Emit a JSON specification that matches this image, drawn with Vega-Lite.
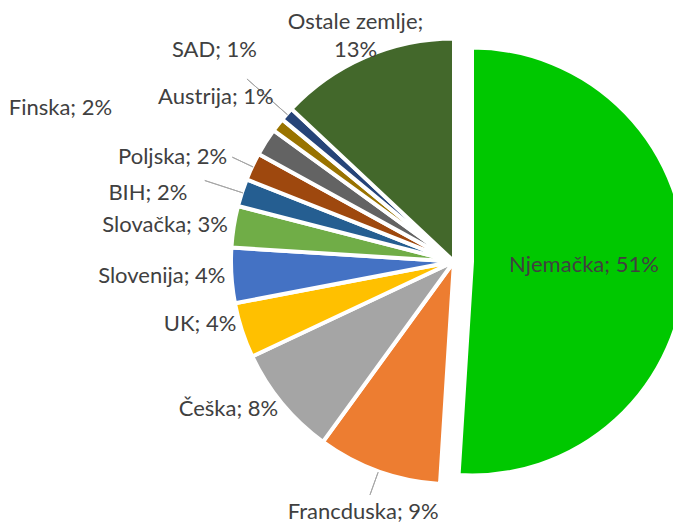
{
  "$schema": "https://vega.github.io/schema/vega-lite/v6.json",
  "width": 438,
  "height": 523,
  "autosize": {"type": "none"},
  "padding": {"left": 235, "top": 0, "right": 0, "bottom": 0},
  "background": "white",
  "config": {"view": {"stroke": null}, "text": {"font": "Lato", "fontSize": 22, "fill": "#404040"}},
  "data": {
    "values": [
      {"rank": 1, "country": "Njemačka", "share": 51, "label": "Njemačka; 51%"},
      {"rank": 2, "country": "Francuska", "share": 9, "label": "Francduska; 9%"},
      {"rank": 3, "country": "Češka", "share": 8, "label": "Češka; 8%"},
      {"rank": 4, "country": "UK", "share": 4, "label": "UK; 4%"},
      {"rank": 5, "country": "Slovenija", "share": 4, "label": "Slovenija; 4%"},
      {"rank": 6, "country": "Slovačka", "share": 3, "label": "Slovačka; 3%"},
      {"rank": 7, "country": "BIH", "share": 2, "label": "BIH; 2%"},
      {"rank": 8, "country": "Poljska", "share": 2, "label": "Poljska; 2%"},
      {"rank": 9, "country": "Finska", "share": 2, "label": "Finska; 2%"},
      {"rank": 10, "country": "Austrija", "share": 1, "label": "Austrija; 1%"},
      {"rank": 11, "country": "SAD", "share": 1, "label": "SAD; 1%"},
      {"rank": 12, "country": "Ostale zemlje", "share": 13, "label": "Ostale zemlje;\n13%"}
    ]
  },
  "encoding": {
    "theta": {"field": "share", "type": "quantitative", "stack": true},
    "order": {"field": "rank", "type": "quantitative"}
  },
  "layer": [
    {
      "mark": {"type": "arc", "radius": 223, "stroke": "white", "strokeWidth": 4, "strokeJoin": "round"},
      "encoding": {
        "color": {
          "field": "country", "type": "nominal", "legend": null,
          "scale": {
            "domain": ["Njemačka", "Francuska", "Češka", "UK", "Slovenija", "Slovačka", "BIH", "Poljska", "Finska", "Austrija", "SAD", "Ostale zemlje"],
            "range": ["#00C800", "#ED7D31", "#A5A5A5", "#FFC000", "#4472C4", "#70AD47", "#255E91", "#9E480E", "#636363", "#997300", "#264478", "#43682B"]
          }
        },
        "opacity": {"condition": {"test": "datum.country === 'Njemačka'", "value": 0}, "value": 1}
      }
    },
    {
      "mark": {"type": "arc", "radius": 214, "stroke": "white", "strokeWidth": 4, "strokeJoin": "round", "xOffset": 18},
      "encoding": {
        "color": {"field": "country", "type": "nominal", "legend": null},
        "opacity": {"condition": {"test": "datum.country === 'Njemačka'", "value": 1}, "value": 0}
      }
    },
    {
      "mark": {"type": "arc", "outerRadius": 248, "innerRadius": 224, "padAngle": 3, "fillOpacity": 0, "stroke": "#A6A6A6", "strokeWidth": 1},
      "encoding": {
        "opacity": {"condition": {"test": "datum.country === 'Francuska'", "value": 1}, "value": 0}
      }
    },
    {
      "mark": {"type": "arc", "outerRadius": 245, "innerRadius": 222, "padAngle": 3, "fillOpacity": 0, "stroke": "#A6A6A6", "strokeWidth": 1},
      "encoding": {
        "opacity": {"condition": {"test": "datum.country === 'Poljska'", "value": 1}, "value": 0}
      }
    },
    {
      "mark": {"type": "arc", "outerRadius": 262, "innerRadius": 222, "padAngle": 3, "fillOpacity": 0, "stroke": "#A6A6A6", "strokeWidth": 1},
      "encoding": {
        "opacity": {"condition": {"test": "datum.country === 'BIH'", "value": 1}, "value": 0}
      }
    },
    {
      "mark": {"type": "arc", "outerRadius": 276, "innerRadius": 222, "padAngle": 3, "fillOpacity": 0, "stroke": "#A6A6A6", "strokeWidth": 1},
      "encoding": {
        "opacity": {"condition": {"test": "datum.country === 'SAD'", "value": 1}, "value": 0}
      }
    },
    {
      "mark": {"type": "text", "radius": 232, "align": "right", "baseline": "middle", "dx": 3},
      "encoding": {
        "text": {"condition": {"test": "indexof(['Češka','Slovenija','Slovačka'], datum.country) >= 0", "field": "label", "type": "nominal"}, "value": ""}
      }
    },
    {
      "mark": {"type": "text", "radius": 232, "align": "right", "baseline": "middle", "dx": 3, "dy": -9},
      "encoding": {
        "text": {"condition": {"test": "datum.country === 'UK'", "field": "label", "type": "nominal"}, "value": ""}
      }
    },
    {
      "mark": {"type": "text", "radius": 232, "align": "right", "baseline": "middle", "dx": -46, "dy": 3},
      "encoding": {
        "text": {"condition": {"test": "datum.country === 'BIH'", "field": "label", "type": "nominal"}, "value": ""}
      }
    },
    {
      "mark": {"type": "text", "radius": 232, "align": "right", "baseline": "middle", "dx": -17, "dy": -6},
      "encoding": {
        "text": {"condition": {"test": "datum.country === 'Poljska'", "field": "label", "type": "nominal"}, "value": ""}
      }
    },
    {
      "mark": {"type": "text", "radius": 232, "align": "right", "baseline": "middle", "dx": -146, "dy": -29},
      "encoding": {
        "text": {"condition": {"test": "datum.country === 'Finska'", "field": "label", "type": "nominal"}, "value": ""}
      }
    },
    {
      "mark": {"type": "text", "radius": 232, "align": "right", "baseline": "middle", "dx": 3, "dy": -22},
      "encoding": {
        "text": {"condition": {"test": "datum.country === 'Austrija'", "field": "label", "type": "nominal"}, "value": ""}
      }
    },
    {
      "mark": {"type": "text", "radius": 232, "align": "right", "baseline": "middle", "dx": -23, "dy": -58},
      "encoding": {
        "text": {"condition": {"test": "datum.country === 'SAD'", "field": "label", "type": "nominal"}, "value": ""}
      }
    },
    {
      "mark": {"type": "text", "radius": 248, "align": "center", "baseline": "middle", "lineBreak": "\n", "lineHeight": 28, "dy": -12},
      "encoding": {
        "text": {"condition": {"test": "datum.country === 'Ostale zemlje'", "field": "label", "type": "nominal"}, "value": ""}
      }
    },
    {
      "mark": {"type": "text", "radius": 268, "align": "center", "baseline": "middle", "dy": -2},
      "encoding": {
        "text": {"condition": {"test": "datum.country === 'Francuska'", "field": "label", "type": "nominal"}, "value": ""}
      }
    },
    {
      "mark": {"type": "text", "radius": 112, "align": "center", "baseline": "middle", "xOffset": 18},
      "encoding": {
        "text": {"condition": {"test": "datum.country === 'Njemačka'", "field": "label", "type": "nominal"}, "value": ""}
      }
    }
  ]
}
